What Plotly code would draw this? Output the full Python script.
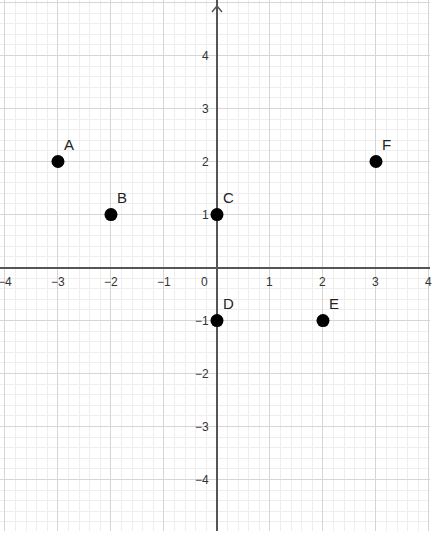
import plotly.graph_objects as go

# points on the coordinate plane
point_names = ["A", "B", "C", "D", "E", "F"]
point_x = [-3, -2, 0, 0, 2, 3]
point_y = [2, 1, 1, -1, -1, 2]

# axis tick labels
x_ticks = [-4, -3, -2, -1, 1, 2, 3, 4]
y_ticks = [-4, -3, -2, -1, 1, 2, 3, 4]

AXIS_COL = "#555555"
LABEL_COL = "#333333"
MINUS = "\u2212"


def fmt(v):
    return f"{MINUS}{abs(v)}" if v < 0 else str(v)


fig = go.Figure()

fig.add_trace(go.Scatter(
    x=point_x, y=point_y,
    mode="markers",
    marker=dict(size=13, color="black"),
    hoverinfo="skip",
    showlegend=False,
    cliponaxis=False,
))

annotations = []
# point names, up and to the right of each point
for name, px, py in zip(point_names, point_x, point_y):
    annotations.append(dict(
        x=px, y=py, text=name, showarrow=False,
        xanchor="left", yanchor="bottom", xshift=4, yshift=7,
        font=dict(family="Liberation Sans, Arial, sans-serif", size=15, color="#222222"),
    ))

tick_font = dict(family="Liberation Sans, Arial, sans-serif", size=12, color=LABEL_COL)
for v in x_ticks:
    annotations.append(dict(
        x=v, y=0, text=fmt(v), showarrow=False,
        xanchor="center", yanchor="top", yshift=-5, font=tick_font,
    ))
for v in y_ticks:
    annotations.append(dict(
        x=0, y=v, text=fmt(v), showarrow=False,
        xanchor="right", yanchor="middle", xshift=-6, font=tick_font,
    ))
annotations.append(dict(
    x=0, y=0, text="0", showarrow=False,
    xanchor="right", yanchor="top", xshift=-7, yshift=-5, font=tick_font,
))

# open chevron at the top of the y axis
arrow = [
    dict(type="line", xref="x", xsizemode="pixel", xanchor=0, x0=-5, x1=0,
         yref="paper", ysizemode="pixel", yanchor=1, y0=-12, y1=-6,
         line=dict(color=AXIS_COL, width=1.5)),
    dict(type="line", xref="x", xsizemode="pixel", xanchor=0, x0=5, x1=0,
         yref="paper", ysizemode="pixel", yanchor=1, y0=-12, y1=-6,
         line=dict(color=AXIS_COL, width=1.5)),
]

axis_common = dict(
    showticklabels=False,
    ticks="",
    dtick=1,
    tick0=0,
    showgrid=True,
    gridcolor="#d6d6d6",
    gridwidth=1,
    minor=dict(dtick=0.2, tick0=0, showgrid=True, gridcolor="#eeeeee", gridwidth=1),
    zeroline=True,
    zerolinecolor=AXIS_COL,
    zerolinewidth=1.5,
    showline=False,
    fixedrange=True,
)

fig.update_layout(
    width=433, height=537,
    margin=dict(l=0, r=3, t=0, b=6),
    paper_bgcolor="white",
    plot_bgcolor="white",
    xaxis=dict(range=[-4.094, 4.019], **axis_common),
    yaxis=dict(range=[-4.97, 5.047], **axis_common),
    annotations=annotations,
    shapes=arrow,
)

fig.write_html(
    "out.html",
    config={"displayModeBar": False},
    post_script="document.body.style.margin='0';",
)
